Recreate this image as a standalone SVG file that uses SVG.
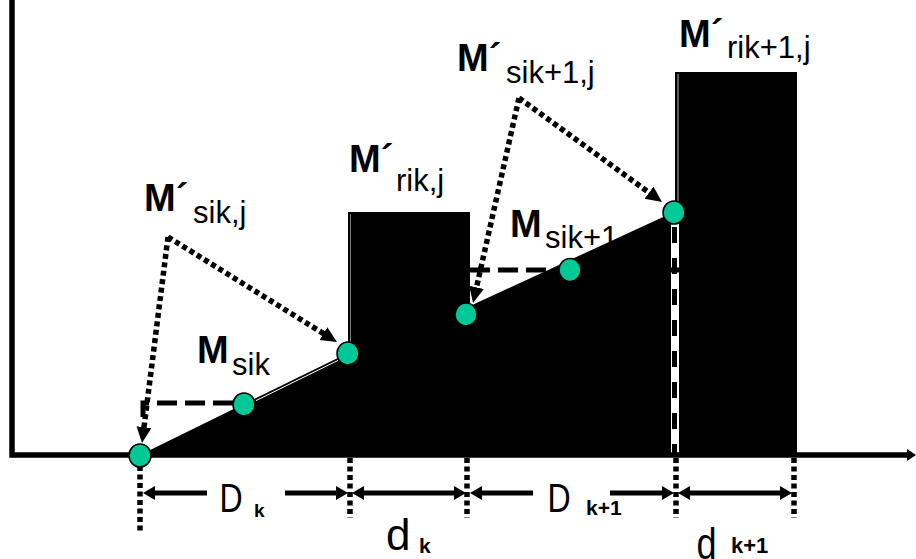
<svg xmlns="http://www.w3.org/2000/svg" width="916" height="559" viewBox="0 0 916 559">
<defs>
<style>
text{font-family:"Liberation Sans",Arial,sans-serif;fill:#000}
.b{font-weight:bold;font-size:38px}
.s{font-size:31px}
.dot{fill:none;stroke:#000;stroke-width:5.5;stroke-dasharray:5 3.5}
.dash{fill:none;stroke:#000;stroke-width:5;stroke-dasharray:20 8}
.dim{fill:none;stroke:#000;stroke-width:5}
.node{fill:#00c896;stroke:#000;stroke-width:1.5}
.dl{font-size:40px}
.kb{font-weight:bold}
.fill{fill:#000}
.hl{stroke:#fff;fill:none}
</style>
<marker id="ah" markerUnits="userSpaceOnUse" markerWidth="18" markerHeight="16" refX="6" refY="7.5" orient="auto"><path d="M0,0 L16,7.5 L0,15 z"/></marker>
<marker id="dh" markerUnits="userSpaceOnUse" markerWidth="13" markerHeight="15" refX="5" refY="7" orient="auto-start-reverse"><path d="M0,0 L12,7 L0,14 z"/></marker>
</defs>
<rect width="916" height="559" fill="#fff"/>

<g id="shapes">
<polygon class="fill" points="140,455 348,353 348,212 470,212 470,306 674,212 674,455"/>
<rect class="fill" x="675" y="72" width="122" height="383"/>
<line class="hl" x1="256" y1="400.6" x2="338" y2="360.4" stroke-width="1"/>
<line class="hl" x1="350.5" y1="214" x2="350.5" y2="343" stroke-width="1" stroke-opacity="0.5"/>
<line class="hl" x1="678" y1="74" x2="678" y2="202" stroke-width="1.2" stroke-opacity="0.6"/>
<line class="hl" x1="675" y1="222" x2="675" y2="453" stroke-width="8"/>
<line x1="674.5" y1="227" x2="674.5" y2="453" stroke="#000" stroke-width="5" stroke-dasharray="16 15"/>
</g>

<g id="axes">
<polyline points="12,0 12,455 910,455" fill="none" stroke="#000" stroke-width="5.5"/>
<path d="M907,449 L916,455 L907,461 z" fill="#000"/>
</g>

<g id="connectors">
<polyline class="dash" points="233,403 143,403 143,425"/>
<line class="dash" x1="470" y1="270" x2="682" y2="270"/>
<line class="dot" x1="168" y1="237" x2="328.5" y2="336.7" marker-end="url(#ah)"/>
<line class="dot" x1="168" y1="237" x2="143.25" y2="433.1" marker-end="url(#ah)"/>
<line class="dot" x1="519" y1="98" x2="653.9" y2="196.1" marker-end="url(#ah)"/>
<line class="dot" x1="519" y1="98" x2="475.2" y2="293.2" marker-end="url(#ah)"/>
</g>

<g id="dimensions">
<line class="dot" x1="140" y1="466" x2="140" y2="531"/>
<line class="dot" x1="350" y1="458" x2="350" y2="518"/>
<line class="dot" x1="467" y1="458" x2="467" y2="518"/>
<line class="dot" x1="676" y1="458" x2="676" y2="518"/>
<line class="dot" x1="794" y1="458" x2="794" y2="518"/>
<line class="dim" x1="150" y1="493" x2="207" y2="493" marker-start="url(#dh)"/>
<line class="dim" x1="285" y1="493" x2="341" y2="493" marker-end="url(#dh)"/>
<line class="dim" x1="359" y1="493" x2="459" y2="493" marker-start="url(#dh)" marker-end="url(#dh)"/>
<line class="dim" x1="477" y1="493" x2="533" y2="493" marker-start="url(#dh)"/>
<line class="dim" x1="610" y1="493" x2="667" y2="493" marker-end="url(#dh)"/>
<line class="dim" x1="685" y1="493" x2="785" y2="493" marker-start="url(#dh)" marker-end="url(#dh)"/>
</g>

<g id="n1"><ellipse class="node" cx="140" cy="455.5" rx="11" ry="11.5"/></g>
<g id="n2"><ellipse class="node" cx="244" cy="404.5" rx="11" ry="11.5"/></g>
<g id="n3"><ellipse class="node" cx="348" cy="353.5" rx="11" ry="11.5"/></g>
<g id="n4"><ellipse class="node" cx="466" cy="314.5" rx="11" ry="11.5"/></g>
<g id="n5"><ellipse class="node" cx="570" cy="270" rx="11" ry="11.5"/></g>
<g id="n6"><ellipse class="node" cx="674" cy="212.5" rx="11" ry="11.5"/></g>

<g id="lbl-msikj"><text class="b" x="144" y="211">M´</text><text class="s" x="193" y="223">sik,j</text></g>
<g id="lbl-msik"><text class="b" x="197" y="363">M</text><text class="s" x="232" y="375">sik</text></g>
<g id="lbl-mrikj"><text class="b" x="349" y="172">M´</text><text class="s" x="396" y="191">rik,j</text></g>
<g id="lbl-msik1j"><text class="b" x="457" y="71">M´</text><text class="s" x="506" y="83">sik+1,j</text></g>
<g id="lbl-msik1"><text class="b" x="510" y="237">M</text><text class="s" x="545" y="248">sik+1</text></g>
<g id="lbl-mrik1j"><text class="b" x="679" y="47">M´</text><text class="s" x="727" y="58">rik+1,j</text></g>

<g id="lbl-Dk"><text class="dl" transform="translate(219.5,512) scale(0.8,1)">D</text><text class="kb" x="254" y="517" font-size="19">k</text></g>
<g id="lbl-dk"><text x="386" y="550" font-size="44">d</text><text class="kb" x="419" y="553" font-size="21">k</text></g>
<g id="lbl-Dk1"><text class="dl" transform="translate(547.5,512) scale(0.8,1)">D</text><text class="kb" x="586" y="515" font-size="21">k+1</text></g>
<g id="lbl-dk1"><text font-size="44" transform="translate(696.5,559) scale(0.82,1)">d</text><text class="kb" x="731" y="553" font-size="22">k+1</text></g>
</svg>
